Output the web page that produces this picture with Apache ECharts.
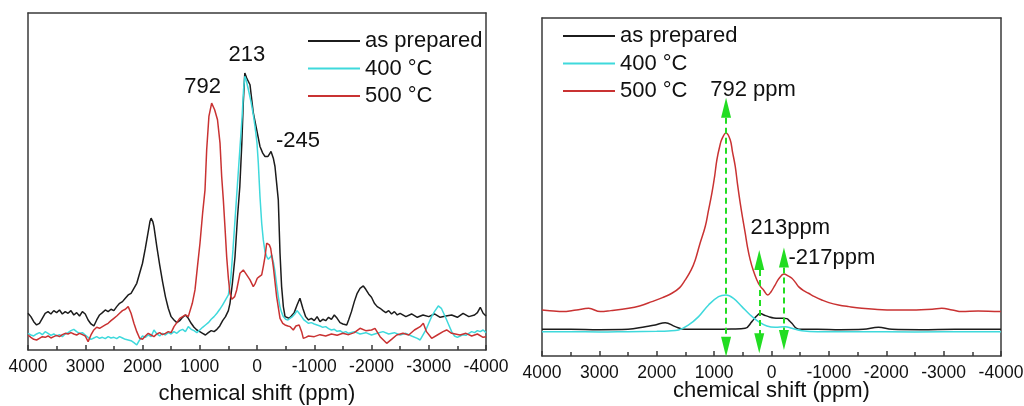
<!DOCTYPE html>
<html>
<head>
<meta charset="utf-8">
<script src="https://cdn.jsdelivr.net/npm/echarts@6/dist/echarts.min.js"></script>
<style>
  html, body { margin: 0; padding: 0; background: #ffffff; }
  #chart { width: 1024px; height: 406px; }
</style>
</head>
<body>
<div id="chart"></div>
<script>
// Chemical shift axis (ppm), drawn high-to-low as is usual for NMR
const shiftMin = -4000;
const shiftMax = 4000;
const shiftStep = 1000;

const seriesNames = ['as prepared', '400 \u00b0C', '500 \u00b0C'];

// Left panel: raw spectra, [shift (ppm), intensity (a.u.)]
const rawAsPrepared = [
  [4000,110],[3950,100],[3900,85],[3850,75],[3800,80],[3750,95],[3700,110],[3650,115],[3600,108],[3550,118],
  [3500,112],[3450,120],[3400,108],[3350,115],[3300,110],[3250,118],[3200,105],[3150,112],[3100,102],[3050,115],
  [3000,108],[2950,90],[2900,78],[2850,72],[2800,90],[2750,105],[2700,112],[2650,120],[2600,115],[2550,122],
  [2500,118],[2450,130],[2400,140],[2350,145],[2300,155],[2250,165],[2200,170],[2150,185],[2100,200],[2050,230],
  [2000,260],[1950,305],[1900,355],[1870,385],[1850,395],[1820,385],[1800,370],[1750,310],[1700,255],[1650,205],
  [1600,160],[1550,125],[1500,100],[1450,90],[1400,82],[1350,88],[1300,98],[1250,105],[1200,95],[1150,80],
  [1100,68],[1050,60],[1000,55],[950,50],[900,45],[850,52],[800,58],[750,55],[700,62],[650,72],
  [600,88],[550,100],[500,118],[472,140],[430,200],[384,280],[340,400],[300,490],[265,620],[240,740],
  [213,830],[180,815],[122,795],[65,711],[5,660],[-52,610],[-100,590],[-140,580],[-192,580],[-220,588],
  [-245,595],[-285,575],[-314,550],[-343,500],[-372,450],[-402,290],[-430,190],[-460,130],[-490,100],[-520,98],
  [-560,95],[-600,102],[-650,112],[-700,135],[-750,155],[-800,125],[-850,100],[-900,90],[-950,95],[-1000,88],
  [-1050,100],[-1100,85],[-1150,92],[-1200,88],[-1250,98],[-1300,92],[-1350,105],[-1400,95],[-1450,82],[-1500,78],
  [-1567,75],[-1600,90],[-1650,115],[-1700,145],[-1750,170],[-1800,185],[-1857,192],[-1900,182],[-1950,168],[-2000,158],
  [-2050,140],[-2100,130],[-2150,125],[-2200,118],[-2250,112],[-2300,118],[-2350,108],[-2400,115],[-2450,105],[-2500,110],
  [-2600,100],[-2700,108],[-2800,98],[-2900,105],[-3000,100],[-3100,108],[-3200,98],[-3300,102],[-3400,105],[-3500,98],
  [-3600,110],[-3700,100],[-3800,105],[-3850,112],[-3900,128],[-3950,110],[-4000,102]
];

const raw400 = [
  [4000,50],[3950,45],[3900,42],[3850,48],[3800,52],[3750,46],[3700,55],[3650,50],[3600,44],[3550,48],
  [3500,42],[3450,46],[3400,40],[3350,48],[3300,52],[3250,58],[3200,62],[3150,55],[3100,50],[3050,52],
  [3000,45],[2950,38],[2900,32],[2850,36],[2800,40],[2750,35],[2700,38],[2650,34],[2600,40],[2550,36],
  [2500,38],[2450,34],[2400,40],[2350,36],[2300,32],[2250,30],[2200,28],[2150,22],[2100,15],[2050,30],
  [2000,42],[1950,38],[1900,45],[1850,40],[1800,60],[1750,48],[1700,42],[1650,50],[1600,45],[1550,52],
  [1500,48],[1450,55],[1400,50],[1350,58],[1300,62],[1250,55],[1200,70],[1150,62],[1100,58],[1050,52],
  [1000,60],[950,68],[900,75],[850,82],[800,92],[750,100],[700,110],[650,122],[600,135],[550,150],
  [500,165],[460,210],[420,300],[380,400],[340,500],[300,600],[260,700],[235,780],[213,820],[190,810],
  [150,780],[100,740],[60,700],[35,670],[0,620],[-23,560],[-52,460],[-82,380],[-110,330],[-140,295],
  [-170,280],[-198,272],[-230,278],[-257,285],[-290,260],[-314,235],[-343,195],[-372,160],[-400,130],[-431,112],
  [-460,100],[-500,92],[-540,90],[-576,95],[-620,100],[-660,108],[-700,118],[-736,110],[-780,100],[-820,90],
  [-860,85],[-900,80],[-950,82],[-1000,78],[-1050,75],[-1100,72],[-1150,68],[-1200,70],[-1250,64],[-1300,60],
  [-1350,62],[-1400,56],[-1450,58],[-1500,52],[-1550,55],[-1600,50],[-1700,55],[-1800,48],[-1900,52],[-2000,45],
  [-2100,50],[-2200,55],[-2300,48],[-2400,52],[-2500,45],[-2600,50],[-2700,42],[-2800,35],[-2850,30],[-2900,45],
  [-2950,60],[-3000,80],[-3050,100],[-3100,115],[-3167,132],[-3220,125],[-3260,110],[-3300,95],[-3350,75],[-3400,55],
  [-3450,42],[-3500,38],[-3550,42],[-3600,46],[-3650,44],[-3700,50],[-3750,55],[-3800,52],[-3850,58],[-3900,55],
  [-3950,60],[-4000,52]
];

const raw500 = [
  [4000,45],[3950,38],[3900,32],[3850,30],[3800,35],[3750,40],[3700,38],[3650,42],[3600,36],[3550,40],
  [3500,44],[3450,40],[3400,46],[3350,50],[3300,48],[3250,52],[3200,48],[3150,45],[3100,50],[3050,46],
  [3000,42],[2950,25],[2900,45],[2850,60],[2800,68],[2750,65],[2700,70],[2650,75],[2600,80],[2550,88],
  [2500,95],[2450,102],[2400,110],[2350,118],[2300,122],[2250,130],[2200,110],[2150,80],[2100,55],[2050,35],
  [2000,32],[1950,42],[1900,50],[1850,45],[1800,40],[1750,48],[1700,52],[1650,46],[1600,50],[1550,55],
  [1500,52],[1450,70],[1400,82],[1350,95],[1300,100],[1250,105],[1200,100],[1170,100],[1130,140],[1083,180],
  [1040,250],[996,320],[950,410],[908,480],[879,600],[840,700],[792,740],[740,720],[690,690],[646,620],
  [617,520],[588,450],[560,370],[530,280],[500,215],[472,170],[440,152],[425,150],[390,160],[355,180],
  [297,230],[239,240],[180,225],[122,210],[65,190],[30,200],[-5,215],[-40,220],[-82,225],[-110,250],
  [-140,280],[-169,320],[-187,325],[-215,315],[-239,305],[-285,250],[-343,160],[-402,95],[-450,80],[-489,75],
  [-540,72],[-580,70],[-634,60],[-680,72],[-736,75],[-780,55],[-809,35],[-852,38],[-900,42],[-1000,40],
  [-1100,46],[-1200,42],[-1300,48],[-1400,44],[-1500,50],[-1600,46],[-1700,52],[-1800,65],[-1900,58],[-2000,60],
  [-2061,65],[-2150,40],[-2265,20],[-2350,32],[-2440,45],[-2550,50],[-2650,45],[-2750,60],[-2850,70],[-2905,80],
  [-2960,55],[-3051,35],[-3150,45],[-3250,55],[-3313,60],[-3400,50],[-3546,45],[-3650,50],[-3750,42],[-3850,48],
  [-3950,38],[-4000,40]
];

// Right panel: processed spectra, [shift (ppm), intensity (a.u.)]
const fitAsPrepared = [
  [4000,80],[3500,80],[3000,79],[2500,80],[2200,88],[2026,93],[1852,100],[1678,88],[1503,80],[1000,80],
  [700,81],[458,83],[342,103],[270,118],[197,127],[120,122],[52,118],[-40,114],[-122,113],[-200,113],
  [-267,112],[-320,104],[-355,98],[-436,83],[-520,80],[-800,80],[-1200,79],[-1600,80],[-1864,86],[-2100,80],
  [-2600,79],[-3200,80],[-4000,80]
];

const fit400 = [
  [4000,73],[3500,73],[3000,72],[2500,73],[2000,74],[1800,75],[1620,78],[1445,93],[1271,118],[1097,153],
  [923,178],[792,183],[662,173],[516,148],[371,123],[226,103],[81,90],[-64,86],[-238,88],[-355,83],
  [-529,76],[-800,73],[-1500,73],[-2500,72],[-3500,73],[-4000,73]
];

const fit500 = [
  [4000,138],[3800,135],[3652,133],[3400,138],[3187,143],[2984,133],[2800,136],[2490,143],[2300,150],[2084,163],
  [1900,175],[1736,188],[1600,205],[1503,228],[1400,258],[1329,288],[1250,335],[1155,388],[1100,435],[1039,488],
  [990,540],[952,588],[900,630],[865,650],[792,668],[720,648],[680,612],[632,568],[590,512],[545,458],
  [500,410],[458,368],[420,328],[371,288],[320,258],[255,228],[200,210],[139,198],[64,183],[10,192],
  [-60,212],[-130,232],[-217,246],[-290,240],[-355,233],[-420,220],[-471,208],[-560,196],[-645,188],[-750,178],
  [-877,168],[-1000,160],[-1167,153],[-1350,148],[-1574,143],[-1800,140],[-2154,138],[-2445,138],[-2800,140],[-2967,143],
  [-3150,138],[-3316,133],[-3600,135],[-4000,133]
];

// Peak positions marked in the right panel: shift, arrow head ends (a.u.)
const arrowShift = [792, 213, -217];
const arrowTop = [744, 288, 295];
const arrowBottom = [28, 38, 48];
const arrowText = ['792 ppm', '213ppm', '-217ppm'];

const colors = ['#1c1c1c', '#3fd9dc', '#c93232'];
const green = '#22dd22';
const frame = '#3a3a3a';
const fontFamily = '"Liberation Sans", Arial, Helvetica, sans-serif';

function bottomAxis(gridIndex, nameGap) {
  return {
    gridIndex, type: 'value', position: 'bottom', inverse: true,
    min: shiftMin, max: shiftMax, interval: shiftStep,
    name: 'chemical shift (ppm)', nameLocation: 'middle', nameGap,
    nameMoveOverlap: false,
    nameTextStyle: { fontFamily, fontSize: 22, color: '#111' },
    axisLine: { show: true, onZero: false, lineStyle: { color: frame, width: 1.5 } },
    axisTick: { show: true, inside: true, length: 5, lineStyle: { color: frame, width: 1.5 } },
    minorTick: { show: true, splitNumber: 2, length: 4, lineStyle: { color: frame, width: 1.5 } },
    axisLabel: { fontFamily, fontSize: 17.5, color: '#111', margin: 8, hideOverlap: false,
      showMinLabel: true, showMaxLabel: true, formatter: v => String(v) },
    splitLine: { show: false }
  };
}
function topAxis(gridIndex) {
  return {
    gridIndex, type: 'value', position: 'top', inverse: true,
    min: shiftMin, max: shiftMax,
    axisLine: { show: true, onZero: false, lineStyle: { color: frame, width: 1.5 } },
    axisTick: { show: false }, axisLabel: { show: false }, splitLine: { show: false }
  };
}
function sideAxis(gridIndex, position, max) {
  return {
    gridIndex, type: 'value', position, min: 0, max,
    axisLine: { show: true, onZero: false, lineStyle: { color: frame, width: 1.5 } },
    axisTick: { show: false }, axisLabel: { show: false }, splitLine: { show: false }
  };
}

function spectrum(name, data, color, axisIndex, smooth) {
  return {
    name, type: 'line', data, xAxisIndex: axisIndex, yAxisIndex: axisIndex,
    showSymbol: false, symbol: 'none', smooth, silent: true,
    lineStyle: { color, width: 1.5 }, itemStyle: { color }, z: 3
  };
}

function textMark(coord, text, offset) {
  return {
    coord, symbol: 'circle', symbolSize: 1, itemStyle: { color: 'rgba(0,0,0,0)' },
    label: { show: true, position: 'inside', offset, formatter: text,
      fontFamily, fontSize: 22, color: '#111' }
  };
}

const leftBlack = spectrum(seriesNames[0], rawAsPrepared, colors[0], 0, false);
leftBlack.markPoint = { silent: true, animation: false, data: [
  textMark([213, 830], '213', [2, -18]),
  textMark([-245, 595], '-245', [27, -11])
] };
const leftRed = spectrum(seriesNames[2], raw500, colors[2], 0, false);
leftRed.markPoint = { silent: true, animation: false, data: [
  textMark([792, 740], '792', [-9, -16])
] };

// Dashed double-headed arrows with their peak labels
const labelOffsets = [[27, -18], [31, -32], [48, 0]];
const arrowSeries = {
  name: 'peak markers', type: 'line', data: [], xAxisIndex: 1, yAxisIndex: 1, silent: true,
  markLine: {
    silent: true, animation: false,
    symbol: ['triangle', 'triangle'], symbolSize: [10, 20],
    lineStyle: { color: green, type: [6, 4], width: 2 },
    itemStyle: { color: green },
    label: { show: false },
    data: arrowShift.map((s, i) => [
      { coord: [s, arrowTop[i]], itemStyle: { color: green } },
      { coord: [s, arrowBottom[i]], itemStyle: { color: green } }
    ])
  },
  markPoint: {
    silent: true, animation: false,
    data: arrowShift.map((s, i) => textMark([s, arrowTop[i]], arrowText[i], labelOffsets[i]))
  }
};

const legendBase = {
  orient: 'vertical', icon: 'rect', itemWidth: 52, itemHeight: 2, itemGap: 5.5,
  selectedMode: false, data: seriesNames,
  textStyle: { fontFamily, fontSize: 22, color: '#111', lineHeight: 22 }
};

const chart = echarts.init(document.getElementById('chart'), null, { renderer: 'canvas' });
chart.setOption({
  animation: false,
  backgroundColor: '#ffffff',
  grid: [
    { left: 28, right: 1024 - 486, top: 13, bottom: 406 - 350, containLabel: false, outerBoundsMode: 'none' },
    { left: 542, right: 1024 - 1001, top: 18, bottom: 406 - 356, containLabel: false, outerBoundsMode: 'none' }
  ],
  legend: [
    Object.assign({}, legendBase, { left: 303, top: 25 }),
    Object.assign({}, legendBase, { left: 558, top: 20 })
  ],
  xAxis: [bottomAxis(0, 33), bottomAxis(1, 24), topAxis(0), topAxis(1)],
  yAxis: [
    sideAxis(0, 'left', 1010), sideAxis(1, 'left', 1013),
    sideAxis(0, 'right', 1010), sideAxis(1, 'right', 1013)
  ],
  series: [
    leftBlack,
    spectrum(seriesNames[1], raw400, colors[1], 0, false),
    leftRed,
    spectrum(seriesNames[0], fitAsPrepared, colors[0], 1, 0.4),
    spectrum(seriesNames[1], fit400, colors[1], 1, 0.4),
    spectrum(seriesNames[2], fit500, colors[2], 1, 0.4),
    arrowSeries
  ]
});
</script>
</body>
</html>
